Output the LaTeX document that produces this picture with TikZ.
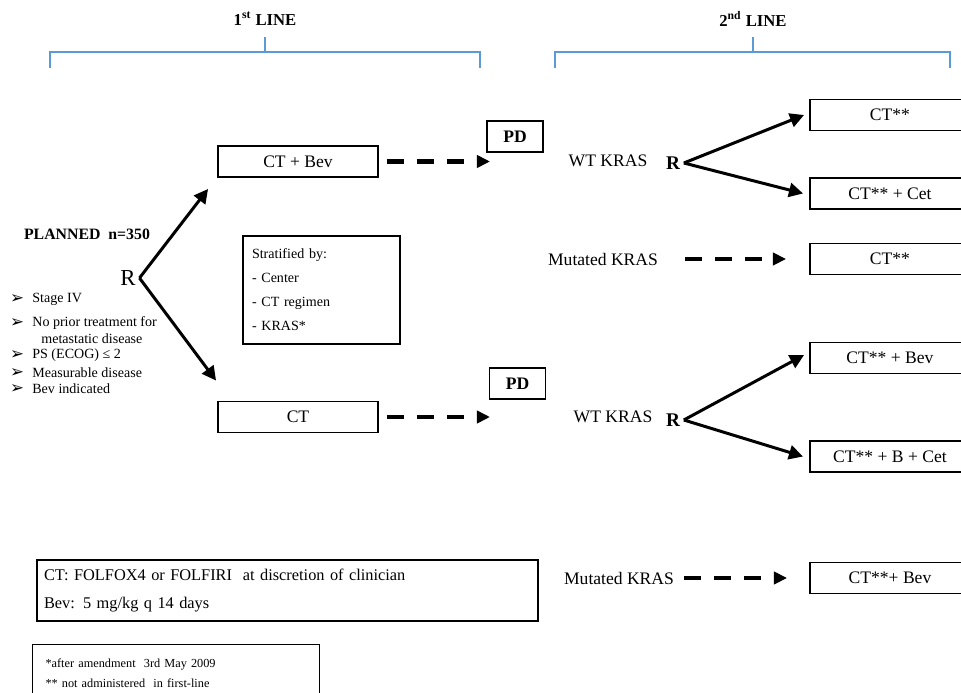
\documentclass[tikz,border=0pt]{standalone}
\usepackage{fontspec}
\setmainfont{Liberation Serif}
\newfontfamily\dingfont{DejaVu Sans}
\usetikzlibrary{arrows.meta}

\begin{document}
\begin{tikzpicture}[x=0.02cm,y=-0.02cm,
    trial_box/.style={shape=rectangle,draw,line width=1.1pt,minimum width=3.2cm,minimum height=0.62cm,inner sep=0pt,font=\fontsize{10}{12}\selectfont},
    pd_box/.style={shape=rectangle,draw,line width=0.6pt,minimum width=1.12cm,minimum height=0.62cm,inner sep=0pt,font=\bfseries\fontsize{10}{12}\selectfont},
    kras_text/.style={inner sep=0pt,font=\fontsize{10}{12}\selectfont},
    rand_r/.style={inner sep=2pt,font=\bfseries\fontsize{11}{13}\selectfont},
    crit_text/.style={anchor=west,inner sep=0pt,font=\fontsize{8}{10}\selectfont},
    rand_arrow/.style={line width=1.7pt,-{Triangle[length=8pt,width=8pt]}},
    pd_arrow/.style={line width=2.4pt,dash pattern=on 9.6pt off 7.4pt,-{Triangle[length=7.5pt,width=7pt]}},
    line_brace/.style={draw=trial_brace,line width=0.7pt}]
    \definecolor{trial_brace}{RGB}{91,155,213}
    \useasboundingbox (0,0) rectangle (961,693);

    % 1st / 2nd line headers
    \node[inner sep=0pt,font=\bfseries\fontsize{9.5}{11}\selectfont] (line1) at (265,19) {1\textsuperscript{st} LINE};
    \node[inner sep=0pt,font=\bfseries\fontsize{9.5}{11}\selectfont] (line2) at (753,19) {2\textsuperscript{nd} LINE};
    \draw[line_brace] (50,68) |- (480,52) -- (480,68);
    \draw[line_brace] (265,37) -- (265,52);
    \draw[line_brace] (555,68) |- (950,52) -- (950,68);
    \draw[line_brace] (753,37) -- (753,52);

    % first randomisation
    \node[inner sep=0pt,font=\bfseries\fontsize{9}{11}\selectfont] (plan) at (87,234) {PLANNED~~n=350};
    \node[inner sep=2pt,font=\fontsize{13}{15}\selectfont] (R0) at (128,278) {R};
    \foreach \yy/\txt in {299/Stage IV,323/No prior treatment for,355/PS (ECOG) ≤ 2,373/Measurable disease,389/Bev indicated} {
        \node[crit_text] (crit\yy) at (32,\yy) {\txt};
        \node[inner sep=0pt,font=\dingfont\fontsize{9.5}{10}\selectfont] (mark\yy) at (17,\yy) {➢};
    }
    \node[crit_text] (crit339) at (41,339) {metastatic disease};

    \node[trial_box] (cb) at (298,161.5) {CT + Bev};
    \node[trial_box] (c1) at (298,417) {CT};
    \draw[rand_arrow] (R0.east) -- ([xshift=-0.18cm,yshift=-0.22cm]cb.south west);
    \draw[rand_arrow] (R0.east) -- ([xshift=-0.02cm,yshift=0.4cm]c1.north west);

    \node[shape=rectangle,draw,line width=0.6pt,minimum width=3.14cm,minimum height=2.16cm,text width=2.78cm,inner xsep=0.18cm,align=left,font=\fontsize{8}{13.7}\selectfont] (strat) at (321.5,290) {Stratified by:\\- Center\\- CT regimen\\- KRAS*};

    % progression
    \node[pd_box] (pd1) at (515,136.5) {PD};
    \node[pd_box] (pd2) at (517.5,383.5) {PD};
    \coordinate (pd1in) at (490,161.5);
    \coordinate (pd2in) at (490,417);
    \draw[pd_arrow] ([xshift=0.16cm]cb.east) -- (pd1in);
    \draw[pd_arrow] ([xshift=0.16cm]c1.east) -- (pd2in);

    % second line, arm CT + Bev
    \node[kras_text] (wt1) at (608,161) {WT KRAS};
    \node[rand_r] (R1) at (673,163) {R};
    \node[kras_text] (mk1) at (603,259) {Mutated KRAS};
    \node[trial_box] (r1) at (890,115) {CT**};
    \node[trial_box] (r2) at (890,193.5) {CT** + Cet};
    \node[trial_box] (r3) at (890,259) {CT**};
    \draw[rand_arrow] (R1.east) -- ([xshift=-0.1cm]r1.west);
    \draw[rand_arrow] (R1.east) -- ([xshift=-0.12cm]r2.west);
    \draw[pd_arrow] ([xshift=0.54cm]mk1.east) -- ([xshift=-0.46cm]r3.west);

    % second line, arm CT
    \node[kras_text] (wt2) at (613,417) {WT KRAS};
    \node[rand_r] (R2) at (673,420) {R};
    \node[kras_text] (mk2) at (619,578) {Mutated KRAS};
    \node[trial_box] (r4) at (890,358) {CT** + Bev};
    \node[trial_box] (r5) at (890,456.5) {CT** + B + Cet};
    \node[trial_box] (r6) at (890,578) {CT**+ Bev};
    \draw[rand_arrow] (R2.east) -- ([xshift=-0.1cm,yshift=0.06cm]r4.west);
    \draw[rand_arrow] (R2.east) -- ([xshift=-0.12cm]r5.west);
    \draw[pd_arrow] ([xshift=0.2cm]mk2.east) -- ([xshift=-0.44cm]r6.west);

    % notes
    \node[shape=rectangle,draw,line width=0.85pt,minimum width=10.02cm,minimum height=1.22cm,text width=9.74cm,inner xsep=0.14cm,align=left,font=\fontsize{9.3}{15.4}\selectfont] (regimen) at (287.5,590.5) {CT: FOLFOX4 or FOLFIRI~~at discretion of clinician\\Bev: 5 mg/kg q 14 days};
    \node[shape=rectangle,draw,line width=0.6pt,anchor=north west,minimum width=5.74cm,minimum height=1.16cm,text width=5.22cm,inner xsep=0.26cm,align=left,font=\fontsize{7}{11.4}\selectfont] (notes) at (32,644) {*after amendment~~3rd May 2009\\{}** not administered~~in first-line};
\end{tikzpicture}
\end{document}
